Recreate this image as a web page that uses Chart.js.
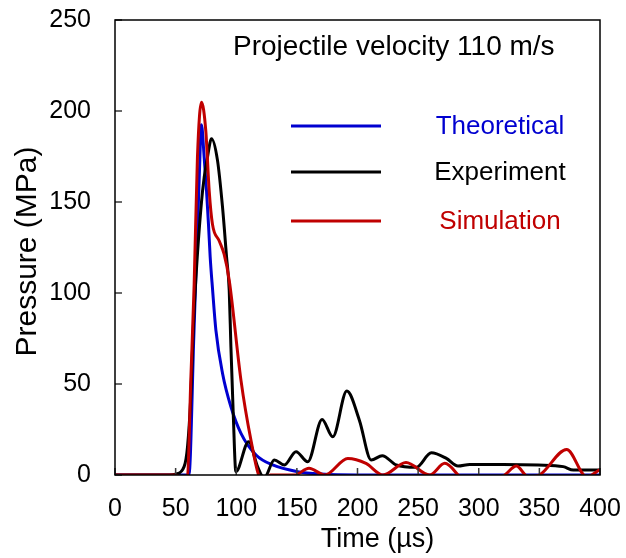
<!DOCTYPE html>
<html>
<head>
<meta charset="utf-8">
<script src="https://cdn.jsdelivr.net/npm/chart.js@4.4.1/dist/chart.umd.min.js"></script>
<style>
  html, body { margin: 0; padding: 0; background: #fff; }
  canvas { display: block; }
</style>
</head>
<body>
<canvas id="pressureChart" width="626" height="558"></canvas>
<script>
// Pressure pulse, projectile velocity 110 m/s
const theoTime = [0, 61, 65, 69.4, 71.3, 73.6, 75.5, 77.1, 78.5, 80.4, 83.2, 88.7, 95.6, 103.9, 116.3, 130, 150.7, 170, 200, 400];
const theoPressure = [0, 0, 76, 162, 192.4, 174, 156, 137.7, 119.8, 102.5, 79.6, 55.8, 37.5, 22.9, 11, 5.5, 1.8, 0.5, 0, 0];

const expTime = [0, 45, 50, 57, 59.8, 62.5, 64.5, 66.7, 72.2, 76.3, 79.6, 84.5, 88.7, 92, 94.2, 95.6, 97.5, 99.7,
  110.2, 117.6, 123, 131.4, 139.7, 149.3, 159, 170.8, 179.6, 191.2, 201.6, 211.3, 220.4, 232, 248.5, 260.9,
  273.3, 282.9, 292.6, 320, 349, 369.7, 378, 400];
const expPressure = [0, 0, 0.5, 4.6, 15.5, 43, 79.6, 108, 156, 174.7, 184.8, 173, 147, 119.8, 101.5, 70.4, 33.9, 1.8,
  18.3, 4.6, -1.6, 8.2, 5.5, 12.8, 7.3, 30.5, 21, 46.1, 30, 8.2, 10.6, 5.5, 4.2, 12.2,
  9.1, 4.9, 5.8, 5.8, 5.5, 4.6, 2.7, 2.7];

const simTime = [0, 50, 55, 59.8, 62.5, 65.3, 68, 71.3, 74.9, 77.7, 80.4, 86, 90, 94.2, 103.9, 112.1, 119, 123, 128,
  148, 160, 173, 192, 207, 221, 240, 259.5, 272, 285.7, 300, 321.5, 331, 340.8, 350, 372.5, 389, 400];
const simPressure = [0, 0, -1.5, 0, 52, 105, 174.7, 204.8, 189, 156, 137.7, 128.6, 121.3, 107, 52, 19.2, -1, -3, 0,
  0, 3.7, 0, 9.1, 6.4, 0, 6.9, 0, 6.4, -1.8, -8, 0, 4.9, -1, 0, 14, -1, 3];

const xTicks = [0, 50, 100, 150, 200, 250, 300, 350, 400];
const yTicks = [0, 50, 100, 150, 200, 250];

const colors = { theo: '#0000d0', exp: '#000000', sim: '#c00000' };
const FONT = "'Liberation Sans', Arial, sans-serif";

Chart.defaults.font.family = FONT;
Chart.defaults.color = '#000';

const toPoints = (ts, ps) => ts.map((t, i) => ({ x: t, y: ps[i] }));

// frame, inward ticks, axis titles, caption and legend
const decorations = {
  id: 'decorations',
  afterDatasetsDraw(chart) {
    const { ctx, chartArea: a, scales: { x, y } } = chart;
    ctx.save();

    ctx.strokeStyle = '#3a3a3a';
    ctx.lineWidth = 1.5;
    ctx.beginPath();
    xTicks.forEach(v => {
      const px = x.getPixelForValue(v);
      ctx.moveTo(px, a.bottom); ctx.lineTo(px, a.bottom - 7);
    });
    yTicks.forEach(v => {
      const py = y.getPixelForValue(v);
      ctx.moveTo(a.left, py); ctx.lineTo(a.left + 7, py);
    });
    ctx.stroke();

    ctx.strokeStyle = '#000';
    ctx.strokeRect(a.left, a.top, a.right - a.left, a.bottom - a.top);

    // axis titles
    ctx.fillStyle = '#000';
    ctx.textAlign = 'center';
    ctx.textBaseline = 'middle';
    ctx.font = '27px ' + FONT;
    ctx.fillText('Time (µs)', (a.left + a.right) / 2 + 20, 540);
    ctx.save();
    ctx.translate(28, (a.top + a.bottom) / 2 + 4);
    ctx.rotate(-Math.PI / 2);
    ctx.font = '30px ' + FONT;
    ctx.fillText('Pressure (MPa)', 0, 0);
    ctx.restore();

    // caption
    ctx.textAlign = 'left';
    ctx.textBaseline = 'alphabetic';
    ctx.font = '28px ' + FONT;
    ctx.fillText('Projectile velocity 110 m/s', 233, 55);

    // legend
    const rows = [126, 172, 221];
    ctx.font = '26px ' + FONT;
    ctx.textAlign = 'center';
    ctx.textBaseline = 'middle';
    chart.data.datasets.forEach((ds, i) => {
      ctx.strokeStyle = ds.borderColor;
      ctx.lineWidth = 3;
      ctx.beginPath();
      ctx.moveTo(291, rows[i]); ctx.lineTo(381, rows[i]);
      ctx.stroke();
      ctx.fillStyle = ds.borderColor;
      ctx.fillText(ds.label, 500, rows[i] + 1);
    });
    ctx.restore();
  }
};

new Chart(document.getElementById('pressureChart'), {
  type: 'line',
  data: {
    datasets: [
      { label: 'Theoretical', data: toPoints(theoTime, theoPressure), borderColor: colors.theo, order: 2 },
      { label: 'Experiment', data: toPoints(expTime, expPressure), borderColor: colors.exp, order: 1 },
      { label: 'Simulation', data: toPoints(simTime, simPressure), borderColor: colors.sim, order: 0 }
    ]
  },
  options: {
    responsive: false,
    animation: false,
    devicePixelRatio: 1,
    layout: { padding: { top: 20, right: 26, left: 0, bottom: 0 } },
    elements: {
      line: { borderWidth: 3, cubicInterpolationMode: 'monotone', fill: false },
      point: { radius: 0 }
    },
    plugins: { legend: { display: false }, tooltip: { enabled: false } },
    scales: {
      x: {
        type: 'linear', min: 0, max: 400,
        afterFit(scale) { scale.height = 83; scale.paddingLeft = 0; scale.paddingRight = 0; },
        afterBuildTicks(scale) { scale.ticks = xTicks.map(v => ({ value: v })); },
        grid: { display: false, drawTicks: false },
        border: { display: false },
        ticks: { padding: 19, font: { size: 25 }, color: '#000', maxRotation: 0, autoSkip: false }
      },
      y: {
        type: 'linear', min: 0, max: 250,
        afterFit(scale) { scale.width = 115; scale.paddingTop = 0; scale.paddingBottom = 0; },
        afterBuildTicks(scale) { scale.ticks = yTicks.map(v => ({ value: v })); },
        grid: { display: false, drawTicks: false },
        border: { display: false },
        ticks: { padding: 24, font: { size: 25 }, color: '#000' }
      }
    }
  },
  plugins: [decorations]
});
</script>
</body>
</html>
